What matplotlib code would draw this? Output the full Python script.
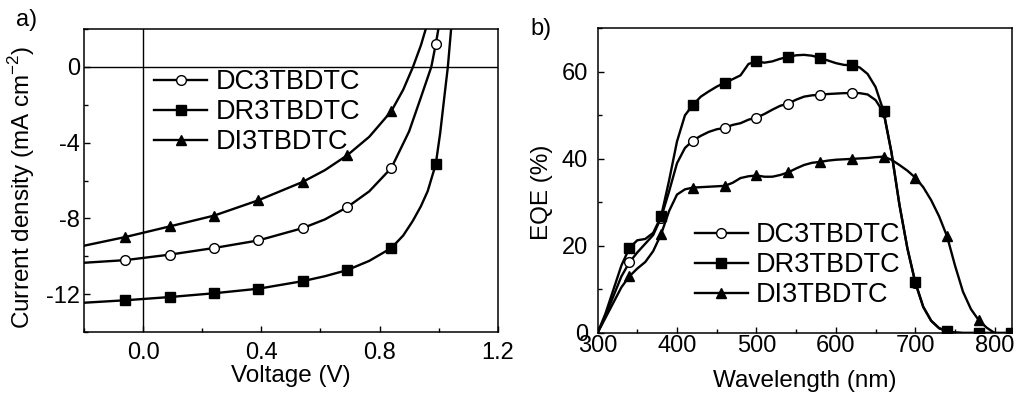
import matplotlib
matplotlib.use("Agg")
import matplotlib.pyplot as plt
from matplotlib.ticker import MultipleLocator, FormatStrFormatter

plt.rcParams["font.family"] = ["Liberation Sans", "DejaVu Sans"]
plt.rcParams["axes.unicode_minus"] = False
plt.rcParams["mathtext.fontset"] = "custom"
plt.rcParams["mathtext.rm"] = "Liberation Sans"

# ---------------------------------------------------------------------------
# a) J-V curves  (voltage in V, current density in mA cm^-2)
# ---------------------------------------------------------------------------
v_markers = [-0.06, 0.09, 0.24, 0.39, 0.54, 0.69, 0.84, 0.99]
dc_j_markers = [-10.2, -9.91, -9.56, -9.16, -8.51, -7.41, -5.33, 1.19]
dr_j_markers = [-12.32, -12.15, -11.95, -11.71, -11.31, -10.73, -9.56, -5.14]
di_j_markers = [-8.98, -8.42, -7.85, -7.04, -6.07, -4.67, -2.33]

dc_v_line = [-0.2, -0.06, 0.09, 0.24, 0.39, 0.54, 0.615, 0.69, 0.765, 0.84,
             0.90, 0.94, 0.975, 0.99, 1.0, 1.01]
dc_j_line = [-10.34, -10.2, -9.91, -9.56, -9.16, -8.51, -8.05, -7.41, -6.57,
             -5.33, -3.4, -1.6, 0.0, 1.19, 2.1, 3.0]

dr_v_line = [-0.2, -0.06, 0.09, 0.24, 0.39, 0.54, 0.615, 0.69, 0.765, 0.84,
             0.88, 0.912, 0.94, 0.963, 0.99, 1.005, 1.019, 1.031, 1.042, 1.05]
dr_j_line = [-12.45, -12.32, -12.15, -11.95, -11.71, -11.31, -11.05, -10.73,
             -10.24, -9.56, -8.9, -8.14, -7.35, -6.55, -5.14, -3.5, -1.6, 0.0,
             2.0, 3.2]

di_v_line = [-0.2, -0.06, 0.09, 0.24, 0.39, 0.54, 0.615, 0.69, 0.765, 0.84,
             0.88, 0.913, 0.94, 0.96, 0.975]
di_j_line = [-9.44, -8.98, -8.42, -7.85, -7.04, -6.07, -5.45, -4.67, -3.69,
             -2.33, -1.2, 0.0, 1.15, 2.2, 3.0]

# ---------------------------------------------------------------------------
# b) EQE spectra  (wavelength in nm, EQE in %)
# ---------------------------------------------------------------------------
wavelength = [300, 310, 320, 330, 340, 350, 360, 370, 380, 390, 400, 410, 420,
              430, 440, 450, 460, 470, 480, 490, 500, 510, 520, 530, 540, 550,
              560, 570, 580, 590, 600, 610, 620, 630, 640, 650, 660, 670, 680,
              690, 700, 710, 720, 730, 740, 750, 760, 770, 780, 790, 800, 810,
              820]
eqe_dc = [0, 4.0, 8.5, 13.0, 16.2, 18.5, 20.5, 22.5, 26.5, 32.5, 39.0, 42.5,
          44.2, 45.3, 46.2, 46.8, 47.1, 47.8, 48.2, 49.0, 49.5, 50.3, 51.3,
          52.2, 52.7, 53.6, 54.3, 54.6, 54.7, 54.9, 55.0, 55.1, 55.1, 55.1,
          54.8, 53.5, 50.7, 41.5, 29.5, 19.5, 11.5, 6.0, 2.8, 1.1, 0.4, 0.1,
          0, 0, 0, 0, 0, 0, 0]
eqe_dr = [0, 4.5, 10.0, 15.5, 19.5, 21.3, 21.6, 23.0, 26.8, 35.0, 44.0, 50.0,
          52.4, 54.3, 55.5, 56.6, 57.5, 58.3, 59.2, 61.8, 62.4, 62.1, 62.4,
          63.0, 63.4, 63.8, 63.9, 63.7, 63.2, 62.6, 62.0, 61.6, 61.5, 61.0,
          59.5, 56.5, 51.0, 41.5, 29.5, 19.5, 11.7, 6.0, 2.8, 1.1, 0.4, 0.1,
          0, 0, 0, 0, 0, 0, 0]
eqe_di = [0, 3.5, 7.0, 10.5, 13.0, 14.8, 16.3, 18.8, 22.7, 28.0, 31.8, 33.0,
          33.4, 33.5, 33.6, 33.7, 33.8, 34.5, 35.6, 36.0, 36.2, 35.9, 35.9,
          36.3, 36.9, 37.8, 38.6, 39.1, 39.3, 39.6, 39.8, 39.9, 40.0, 40.1,
          40.2, 40.4, 40.5, 39.8, 38.6, 37.3, 35.7, 33.5, 30.5, 26.8, 22.2,
          15.5, 9.5, 5.5, 2.9, 1.2, 0]

labels = ["DC3TBDTC", "DR3TBDTC", "DI3TBDTC"]

LW = 1.7
MS = 7
TICK_FS = 17
LABEL_FS = 17.5
LEGEND_FS = 19.5


def style_axes(ax, xpad, ypad):
    for sp in ax.spines.values():
        sp.set_linewidth(1.1)
    ax.tick_params(which="both", direction="in", top=False, right=False,
                   labelsize=TICK_FS, width=1.0)
    ax.tick_params(which="major", length=4.5)
    ax.tick_params(which="minor", length=3)
    ax.tick_params(axis="x", pad=xpad)
    ax.tick_params(axis="y", pad=ypad)


def legend_handles():
    return [
        plt.Line2D([], [], color="black", lw=LW, marker="o", ms=MS,
                   mfc="white", mec="black", mew=1.0),
        plt.Line2D([], [], color="black", lw=LW, marker="s", ms=MS - 0.5),
        plt.Line2D([], [], color="black", lw=LW, marker="^", ms=MS + 0.5),
    ]


fig = plt.figure(figsize=(10.18, 3.93), dpi=100)
ax1 = fig.add_axes([0.0825, 0.155, 0.4065, 0.771])
ax2 = fig.add_axes([0.587, 0.1527, 0.4073, 0.7753])

# --- panel a ---------------------------------------------------------------
ax1.axhline(0, color="black", lw=1.0, zorder=1)
ax1.axvline(0, color="black", lw=1.0, zorder=1)

ax1.plot(dc_v_line, dc_j_line, color="black", lw=LW)
ax1.plot(v_markers, dc_j_markers, "o", ms=MS, mfc="white", mec="black", mew=1.0)
ax1.plot(dr_v_line, dr_j_line, color="black", lw=LW)
ax1.plot(v_markers, dr_j_markers, "s", ms=MS - 0.5, color="black")
ax1.plot(di_v_line, di_j_line, color="black", lw=LW)
ax1.plot(v_markers[:len(di_j_markers)], di_j_markers, "^", ms=MS + 0.5,
         color="black")

ax1.legend(legend_handles(), labels, loc="center left",
           bbox_to_anchor=(0.17, 0.726), frameon=False, fontsize=LEGEND_FS,
           handlelength=1.95, handletextpad=0.3, labelspacing=0.15,
           borderpad=0, borderaxespad=0)

ax1.set_xlim(-0.2, 1.2)
ax1.set_ylim(-14, 2)
ax1.xaxis.set_major_locator(MultipleLocator(0.4))
ax1.xaxis.set_minor_locator(MultipleLocator(0.2))
ax1.xaxis.set_major_formatter(FormatStrFormatter("%.1f"))
ax1.yaxis.set_major_locator(MultipleLocator(4))
ax1.yaxis.set_minor_locator(MultipleLocator(2))
style_axes(ax1, xpad=7, ypad=3)
ax1.set_xlabel("Voltage (V)", fontsize=LABEL_FS, labelpad=0)
ax1.xaxis.set_label_coords(0.5, -0.11)
ax1.set_ylabel("Current density (mA cm$^{-2}$)", fontsize=LABEL_FS)
ax1.yaxis.set_label_coords(-0.113, 0.479)
fig.text(0.026, 0.948, "a)", fontsize=17, ha="center", va="center")

# --- panel b ---------------------------------------------------------------
ax2.plot(wavelength, eqe_dc, color="black", lw=LW, marker="o", ms=MS,
         mfc="white", mec="black", mew=1.0, markevery=slice(4, 45, 4))
ax2.plot(wavelength, eqe_dr, color="black", lw=LW, marker="s", ms=MS - 0.5,
         markevery=slice(4, None, 4))
ax2.plot(wavelength[:len(eqe_di)], eqe_di, color="black", lw=LW, marker="^",
         ms=MS + 0.5, markevery=slice(4, 49, 4))

ax2.legend(legend_handles(), labels, loc="center left",
           bbox_to_anchor=(0.235, 0.223), frameon=False, fontsize=LEGEND_FS,
           handlelength=1.95, handletextpad=0.3, labelspacing=0.15,
           borderpad=0, borderaxespad=0)

ax2.set_xlim(300, 822)
ax2.set_ylim(0, 70)
ax2.xaxis.set_major_locator(MultipleLocator(100))
ax2.xaxis.set_minor_locator(MultipleLocator(50))
ax2.yaxis.set_major_locator(MultipleLocator(20))
ax2.yaxis.set_minor_locator(MultipleLocator(10))
style_axes(ax2, xpad=1.5, ypad=7)
ax2.set_xlabel("Wavelength (nm)", fontsize=LABEL_FS, labelpad=0)
ax2.xaxis.set_label_coords(0.5, -0.12)
ax2.set_ylabel("EQE (%)", fontsize=LABEL_FS)
ax2.yaxis.set_label_coords(-0.108, 0.463)
fig.text(0.531, 0.926, "b)", fontsize=17, ha="center", va="center")

fig.savefig("out.png", dpi=100)
